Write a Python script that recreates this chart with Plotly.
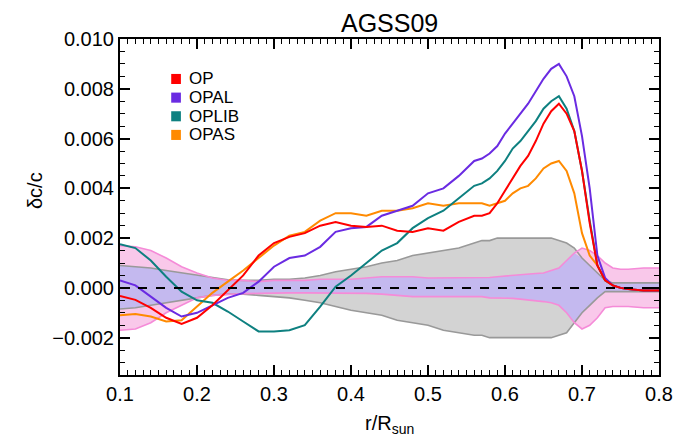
import numpy as np
import plotly.graph_objects as go

# radius grid r/Rsun
r = [0.10, 0.12, 0.14, 0.16, 0.18, 0.20, 0.22, 0.24, 0.26, 0.28, 0.30, 0.32,
     0.34, 0.36, 0.38, 0.40, 0.42, 0.44, 0.46, 0.48, 0.50, 0.52, 0.54, 0.56,
     0.57, 0.58, 0.59, 0.60, 0.61, 0.62, 0.63, 0.64, 0.65, 0.66, 0.67, 0.68,
     0.69, 0.70, 0.71, 0.72, 0.73, 0.74, 0.75, 0.76, 0.78, 0.80]

# dc/c for each opacity table
op = [-0.00032, -0.00048, -0.0008, -0.0012, -0.00145, -0.0012, -0.0007, -0.0001, 0.0005, 0.0013, 0.0018, 0.00205,
      0.0022, 0.0025, 0.00265, 0.0025, 0.00245, 0.0025, 0.0023, 0.00225, 0.0024, 0.0023, 0.00265, 0.0029,
      0.0029, 0.0030, 0.0034, 0.0039, 0.0044, 0.0049, 0.0053, 0.0059, 0.0066, 0.0071, 0.0074, 0.0070,
      0.0063, 0.0047, 0.0026, 0.0009, 0.0003, 0.0001, 0.0, -0.00005, -0.0001, -0.0001]
opal = [0.0003, 0.0001, -0.00035, -0.0008, -0.00115, -0.001, -0.0007, -0.0004, -0.0002, 0.00025, 0.00085, 0.0012,
        0.0013, 0.00165, 0.00225, 0.0024, 0.00245, 0.0029, 0.0031, 0.0033, 0.0038, 0.004, 0.0045, 0.0051,
        0.0052, 0.0054, 0.0057, 0.0062, 0.0066, 0.0070, 0.0074, 0.0079, 0.0084, 0.0088, 0.0090, 0.0085,
        0.0077, 0.0061, 0.0040, 0.0013, 0.0004, 0.0001, 0.0, -0.00005, -0.0001, -0.0001]
oplib = [0.00175, 0.0016, 0.0011, 0.00045, -0.00015, -0.0005, -0.0006, -0.00095, -0.00135, -0.00175, -0.00175, -0.0017,
         -0.0015, -0.00075, 0.00005, 0.0005, 0.001, 0.0015, 0.0018, 0.0024, 0.0028, 0.0031, 0.0036, 0.0041,
         0.0042, 0.0044, 0.0047, 0.0051, 0.0056, 0.0059, 0.0063, 0.0067, 0.0072, 0.0075, 0.0077, 0.0072,
         0.0063, 0.0047, 0.0027, 0.0009, 0.0003, 0.0001, 0.0, -0.00005, -0.0001, -0.0001]
opas = [-0.0011, -0.00105, -0.00115, -0.00135, -0.0013, -0.00075, -0.0002, 0.00025, 0.0007, 0.0012, 0.0017, 0.0021,
        0.00225, 0.0027, 0.003, 0.003, 0.0029, 0.0031, 0.0031, 0.0032, 0.0034, 0.0033, 0.0034, 0.0034,
        0.0034, 0.0033, 0.0034, 0.0035, 0.0038, 0.004, 0.0041, 0.0044, 0.0048, 0.005, 0.0051, 0.0047,
        0.0038, 0.0022, 0.0013, 0.0009, 0.0003, 0.0001, 0.0, -0.00005, -0.0001, -0.0001]

# uncertainty bands
gray_up = [0.0009, 0.00085, 0.0008, 0.0007, 0.0006, 0.0005, 0.0004, 0.00033, 0.0003, 0.0003, 0.00035, 0.00035,
           0.0004, 0.0005, 0.00065, 0.00075, 0.00085, 0.001, 0.0011, 0.0013, 0.0014, 0.0015, 0.0016, 0.0018,
           0.0019, 0.0019, 0.002, 0.002, 0.002, 0.002, 0.002, 0.002, 0.002, 0.002, 0.0019, 0.0018,
           0.0016, 0.0012, 0.0009, 0.0006, 0.0003, 0.0002, 0.0002, 0.0002, 0.0002, 0.0002]
gray_lo = [-0.00085, -0.0008, -0.0007, -0.0006, -0.0005, -0.0004, -0.0003, -0.00025, -0.00025, -0.0003, -0.00035, -0.0004,
           -0.0005, -0.0006, -0.00075, -0.0009, -0.001, -0.0011, -0.0013, -0.0014, -0.0015, -0.0017, -0.0018, -0.0019,
           -0.0019, -0.002, -0.002, -0.002, -0.002, -0.002, -0.002, -0.002, -0.002, -0.002, -0.0019, -0.0018,
           -0.0014, -0.001, -0.0007, -0.0004, -0.00015, -0.00015, -0.00015, -0.00015, -0.00015, -0.00015]
pink_up = [0.0017, 0.00165, 0.0015, 0.0012, 0.00085, 0.0006, 0.0004, 0.0003, 0.0003, 0.00025, 0.0003, 0.0003,
           0.0003, 0.00035, 0.00035, 0.00035, 0.0004, 0.00045, 0.00045, 0.00045, 0.0004, 0.0004, 0.0004, 0.0004,
           0.0004, 0.00042, 0.00045, 0.00048, 0.0005, 0.00052, 0.00055, 0.00058, 0.0006, 0.0007, 0.0008, 0.0011,
           0.0014, 0.0016, 0.0015, 0.0013, 0.001, 0.0008, 0.00075, 0.00075, 0.0008, 0.0008]
pink_lo = [-0.0017, -0.00165, -0.0014, -0.001, -0.0007, -0.0004, -0.0003, -0.00025, -0.00023, -0.00022, -0.0002, -0.0002,
           -0.0002, -0.0002, -0.0002, -0.0002, -0.00022, -0.00025, -0.0003, -0.00035, -0.00035, -0.00035, -0.00035, -0.00035,
           -0.00035, -0.0004, -0.0004, -0.0004, -0.00042, -0.00045, -0.00048, -0.0005, -0.00055, -0.0006, -0.0007, -0.001,
           -0.0014, -0.00165, -0.0015, -0.0012, -0.0008, -0.00075, -0.00075, -0.00075, -0.0008, -0.0008]

names = ["OP", "OPAL", "OPLIB", "OPAS"]
colors = ["#ff0000", "#6a2be2", "#0e8080", "#ff8a00"]

FONT = "Liberation Sans, Arial, Helvetica, sans-serif"

fig = go.Figure()


def band(up, lo, fillcolor):
    fig.add_trace(go.Scatter(x=r + r[::-1], y=list(up) + list(lo)[::-1], fill="toself",
                             fillcolor=fillcolor, line=dict(width=0), mode="lines",
                             hoverinfo="skip", showlegend=False))


band(gray_up, gray_lo, "#d3d3d3")
band(pink_up, pink_lo, "#f9c8ea")
# overlap of the two bands
band(np.minimum(gray_up, pink_up), np.maximum(gray_lo, pink_lo), "#c4b9ef")

for edge in [gray_up, gray_lo]:
    fig.add_trace(go.Scatter(x=r, y=edge, mode="lines", line=dict(color="#999999", width=1.6),
                             showlegend=False, hoverinfo="skip"))
for edge in [pink_up, pink_lo]:
    fig.add_trace(go.Scatter(x=r, y=edge, mode="lines", line=dict(color="#f58bd8", width=1.6),
                             showlegend=False, hoverinfo="skip"))

fig.add_hline(y=0, line=dict(color="black", width=2, dash="dash"))

# draw in reverse so red sits on top like the original
for name, ys, c in zip(names[::-1], [opas, oplib, opal, op], colors[::-1]):
    fig.add_trace(go.Scatter(x=r, y=ys, mode="lines", name=name,
                             line=dict(color=c, width=2), showlegend=False))

# legend: coloured squares and names
for i, (name, c) in enumerate(zip(names, colors)):
    yy = 0.881 - i * 0.0555
    fig.add_shape(type="rect", xref="paper", yref="paper",
                  x0=0.095, x1=0.113, y0=yy - 0.015, y1=yy + 0.015,
                  fillcolor=c, line=dict(width=0))
    fig.add_annotation(x=0.125, y=yy, xref="paper", yref="paper", text=name,
                       showarrow=False, xanchor="left", yanchor="middle",
                       font=dict(size=17, color="black", family=FONT))

fig.add_annotation(x=0.5, y=1.0, xref="paper", yref="paper", text="AGSS09",
                   showarrow=False, xanchor="center", yanchor="middle", yshift=16,
                   font=dict(size=25, color="black", family=FONT))
fig.add_annotation(x=-0.158, y=0.55, xref="paper", yref="paper", text="δc/c",
                   showarrow=False, textangle=-90, xanchor="center", yanchor="middle",
                   font=dict(size=20, color="black", family=FONT))
fig.add_annotation(x=0.5, y=0, xref="paper", yref="paper", text="r/R<sub>sun</sub>",
                   showarrow=False, xanchor="center", yanchor="top", yshift=-35,
                   font=dict(size=20, color="black", family=FONT))

axis_common = dict(showline=True, linecolor="black", linewidth=2, mirror="ticks",
                   ticks="inside", ticklen=10, tickwidth=1.6, tickcolor="black",
                   showgrid=False, zeroline=False,
                   tickfont=dict(size=20, color="black", family=FONT))

fig.update_xaxes(range=[0.1, 0.8], tick0=0.1, dtick=0.1, tickformat=".1f",
                 minor=dict(ticks="inside", ticklen=5, dtick=0.01, tickcolor="black", tickwidth=1.2),
                 **axis_common)
fig.update_yaxes(range=[-0.0035, 0.010], tick0=0, dtick=0.002, tickformat=".3f",
                 minor=dict(ticks="inside", ticklen=5, dtick=0.0005, tickcolor="black", tickwidth=1.2),
                 **axis_common)

# the page adds an 8px body margin, so the figure is made 8px smaller each way
fig.update_layout(width=677, height=432, margin=dict(l=112, r=16, t=31, b=65),
                  plot_bgcolor="white", paper_bgcolor="white",
                  font=dict(family=FONT, color="black"), showlegend=False)

fig.write_html("out.html")
